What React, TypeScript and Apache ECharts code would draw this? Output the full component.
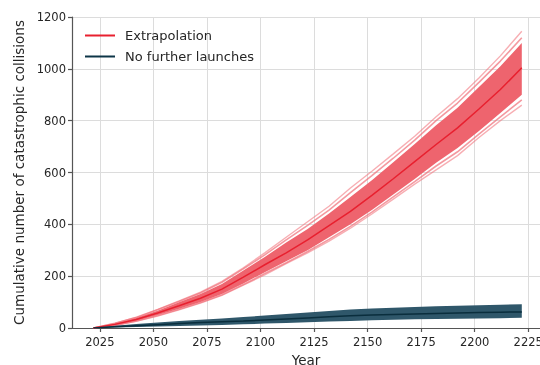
import React, { useEffect, useRef } from "react";
import * as echarts from "echarts";

const years = [2022, 2032, 2042, 2052, 2062, 2072, 2082, 2092, 2102, 2112, 2122, 2132, 2142, 2152, 2162, 2172, 2182, 2192, 2202, 2212, 2222];
const xTicks = [2025, 2050, 2075, 2100, 2125, 2150, 2175, 2200, 2225];

// Extrapolation (red)
const extrapMean = [0, 14, 33, 58, 86, 115, 150, 196, 244, 290, 340, 395, 450, 512, 576, 642, 708, 772, 845, 920, 1004];
const extrapUpper = [0, 17, 39, 67, 99, 131, 170, 222, 274, 330, 382, 442, 505, 570, 640, 710, 782, 850, 930, 1010, 1100];
const extrapLower = [0, 11, 28, 50, 74, 100, 131, 172, 215, 258, 300, 350, 400, 455, 515, 575, 638, 695, 760, 830, 900];
const extrapRunHigh = [0, 18, 42, 72, 105, 138, 180, 232, 290, 350, 410, 470, 540, 605, 672, 740, 815, 885, 965, 1050, 1145];
const extrapRunUpper2 = [0, 18, 40, 70, 102, 135, 176, 228, 282, 340, 396, 455, 522, 588, 655, 725, 800, 868, 948, 1030, 1120];
const extrapRunLower2 = [0, 10, 27, 48, 72, 98, 128, 168, 210, 252, 295, 342, 392, 447, 506, 565, 625, 680, 748, 815, 880];
const extrapRunLow = [0, 10, 26, 46, 70, 96, 126, 165, 205, 248, 290, 335, 385, 440, 497, 555, 610, 665, 735, 800, 860];

// No further launches (blue)
const noLaunchMean = [0, 5, 9, 13, 17, 21, 24, 27, 31, 35, 39, 43, 47, 50, 52, 54, 56, 58, 60, 61, 62];
const noLaunchUpper = [0, 9, 15, 21, 27, 32, 37, 42, 48, 54, 60, 66, 71, 75, 78, 81, 84, 86, 88, 90, 92];
const noLaunchLower = [0, 2, 4, 6, 8, 10, 12, 14, 17, 19, 22, 25, 27, 30, 32, 34, 35, 36, 37, 38, 40];

const FONT = "DejaVu Sans";
const TEXT = "#262626";
const AXIS = "#555555";
const GRID = "#dcdcdc";

export default function App() {
  const ref = useRef<HTMLDivElement>(null);
  useEffect(() => {
    const chart = echarts.init(ref.current!, null, { renderer: "svg" });
    const pts = (ys: number[]) => years.map((x, i) => [x, ys[i]]);

    const band = (lower: number[], upper: number[], color: string, z: number) => ({
      type: "custom",
      data: [[years[0], lower[0]]],
      silent: true,
      clip: true,
      z,
      renderItem: (_params: any, api: any) => {
        const top = years.map((x, i) => api.coord([x, upper[i]]));
        const bot = years.map((x, i) => api.coord([x, lower[i]])).reverse();
        return {
          type: "polygon",
          shape: { points: top.concat(bot) },
          style: { fill: color },
        };
      },
    });

    const run = (name: string, ys: number[], color: string, width: number, z: number) => ({
      name,
      type: "line",
      data: pts(ys),
      symbol: "none",
      lineStyle: { color, width },
      silent: true,
      z,
    });

    const option: any = {
      animation: false,
      textStyle: { fontFamily: FONT },
      grid: { left: 72, right: 0, top: 17, bottom: 37, containLabel: false, outerBoundsMode: "none" },
      legend: {
        show: true,
        data: ["Extrapolation", "No further launches"],
        orient: "vertical",
        left: 80,
        top: 24,
        icon: "rect",
        itemWidth: 30,
        itemHeight: 2,
        itemGap: 8,
        textStyle: { fontFamily: FONT, fontSize: 13, color: TEXT, padding: [0, 0, 0, 5], lineHeight: 13 },
      },
      xAxis: {
        type: "value",
        min: 2012,
        max: 2230.5,
        name: "Year",
        nameLocation: "middle",
        nameGap: 25,
        nameTextStyle: { fontFamily: FONT, fontSize: 13.5, color: TEXT },
        axisLine: { show: true, lineStyle: { color: AXIS, width: 1.2 } },
        axisTick: { show: true, length: 4, lineStyle: { color: AXIS, width: 1.2 }, customValues: xTicks },
        axisLabel: { fontFamily: FONT, fontSize: 11.5, color: TEXT, margin: 8, customValues: xTicks, formatter: (v: number) => String(v) },
        splitLine: { show: false },
      },
      yAxis: {
        type: "value",
        min: 0,
        max: 1200,
        interval: 200,
        name: "Cumulative number of catastrophic collisions",
        nameLocation: "middle",
        nameGap: 44,
        nameTextStyle: { fontFamily: FONT, fontSize: 13.5, color: TEXT },
        axisLine: { show: true, lineStyle: { color: AXIS, width: 1.2 } },
        axisTick: { show: true, length: 4, lineStyle: { color: AXIS, width: 1.2 } },
        axisLabel: { fontFamily: FONT, fontSize: 11.5, color: TEXT, margin: 6, formatter: (v: number) => String(v) },
        splitLine: { show: true, lineStyle: { color: GRID, width: 1 } },
      },
      series: [
        {
          name: "vgrid",
          type: "line",
          data: [],
          z: 1,
          silent: true,
          markLine: {
            z: 1,
            silent: true,
            symbol: "none",
            label: { show: false },
            lineStyle: { color: GRID, type: "solid", width: 1 },
            data: xTicks.map((v) => ({ xAxis: v })),
          },
        },
        run("runHigh", extrapRunHigh, "rgba(241,120,128,0.6)", 1.4, 2),
        run("runLow", extrapRunLow, "rgba(241,120,128,0.6)", 1.4, 2),
        run("runUpper2", extrapRunUpper2, "rgba(240,110,120,0.7)", 1.6, 2),
        run("runLower2", extrapRunLower2, "rgba(240,110,120,0.7)", 1.6, 2),
        band(extrapLower, extrapUpper, "rgb(238,100,110)", 3),
        {
          name: "Extrapolation",
          type: "line",
          data: pts(extrapMean),
          symbol: "none",
          lineStyle: { color: "#e8202f", width: 1.5 },
          itemStyle: { color: "#e8202f" },
          z: 4,
        },
        band(noLaunchLower, noLaunchUpper, "rgb(47,87,106)", 5),
        {
          name: "No further launches",
          type: "line",
          data: pts(noLaunchMean),
          symbol: "none",
          lineStyle: { color: "#0a2e3d", width: 1.5 },
          itemStyle: { color: "#0d3547" },
          z: 6,
        },
      ],
    };
    chart.setOption(option);
    return () => chart.dispose();
  }, []);
  return <div ref={ref} style={{ position: "fixed", left: 0, top: 0, width: 540, height: 365 }} />;
}
